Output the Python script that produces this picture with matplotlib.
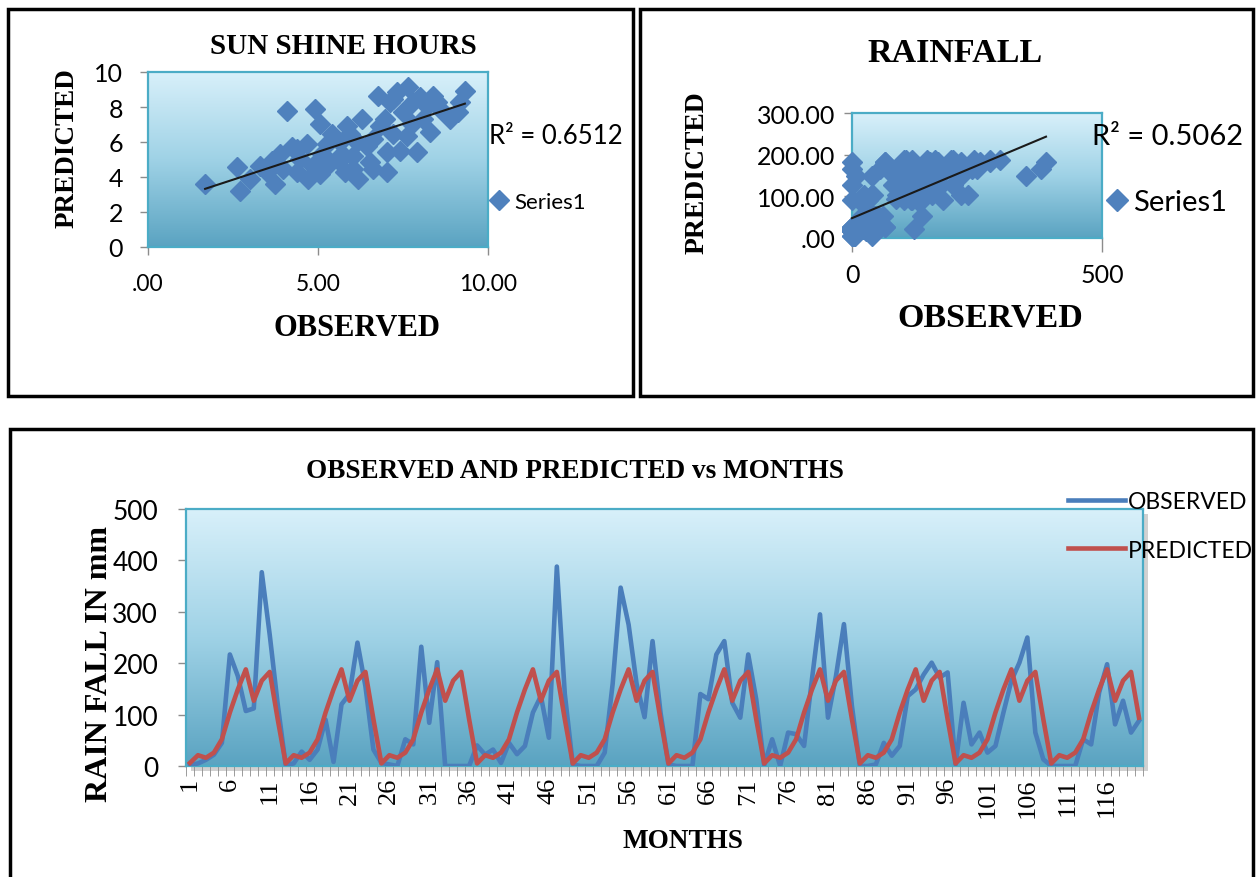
import numpy as np
import matplotlib
matplotlib.use('Agg')
import matplotlib.pyplot as plt
from matplotlib.patches import Rectangle
from matplotlib.lines import Line2D
from matplotlib.colors import LinearSegmentedColormap
from matplotlib.ticker import FuncFormatter, MultipleLocator

W, H = 1257, 878

# Sun shine hours: observed vs predicted
sun_obs = [1.68, 2.61, 2.71, 3.00, 3.29, 3.74, 3.64, 3.88, 4.08, 4.23, 4.37, 4.47,
           4.67, 4.72, 4.91, 5.06, 5.11, 5.25, 5.40, 5.55, 5.65, 5.79, 5.94, 6.04,
           6.19, 6.28, 6.43, 6.53, 6.63, 6.77, 6.82, 7.02, 7.12, 7.22, 7.31, 7.41,
           7.51, 7.66, 7.75, 7.90, 8.00, 8.10, 8.20, 8.39, 8.59, 8.88, 9.13, 9.32,
           9.18, 3.98, 4.86, 5.25, 5.75, 6.14, 5.84, 6.63, 7.02, 6.97, 7.61, 8.29,
           4.37, 3.49, 5.06, 6.04, 8.49, 7.80, 7.22]
sun_pred = [3.60, 4.55, 3.22, 3.89, 4.65, 3.60, 4.93, 5.31, 7.79, 5.70, 4.27, 5.03,
            5.89, 3.89, 7.89, 7.03, 5.31, 4.65, 6.46, 5.03, 5.98, 4.27, 6.46, 5.22,
            3.89, 7.31, 5.79, 4.84, 6.17, 8.65, 6.93, 4.27, 8.27, 6.46, 8.84, 5.50,
            7.70, 9.12, 7.03, 5.41, 8.55, 7.31, 8.08, 8.65, 7.89, 7.31, 7.70, 8.93,
            8.27, 4.46, 4.65, 5.89, 5.22, 5.98, 6.93, 4.46, 5.41, 7.31, 6.36, 6.55,
            5.60, 4.27, 4.17, 4.46, 8.27, 8.27, 8.46]
sun_r2 = 'R² = 0.6512'

# Monthly rainfall (mm), 120 months
months = np.arange(1, 121)
rain_obs = [2, 5, 12, 22, 45, 217, 175, 107, 112, 377, 255, 120,
            2, 5, 28, 12, 32, 90, 8, 120, 140, 240, 155, 32,
            6, 3, 0, 52, 42, 232, 84, 202, 0, 0, 0, 0,
            40, 22, 32, 6, 45, 23, 39, 104, 136, 55, 388, 140,
            3, 0, 0, 0, 26, 160, 347, 275, 160, 95, 243, 104,
            3, 0, 0, 0, 140, 130, 217, 243, 123, 94, 217, 130,
            2, 52, 0, 65, 62, 39, 170, 295, 94, 175, 276, 117,
            0, 0, 3, 45, 20, 39, 136, 149, 178, 201, 172, 182,
            3, 123, 42, 65, 26, 39, 104, 166, 201, 250, 65, 13,
            0, 0, 0, 0, 52, 42, 143, 198, 81, 127, 65, 88]
rain_pred = [6, 21, 16, 26, 52, 104, 149, 188, 127, 166, 183, 91,
             5, 21, 16, 26, 52, 104, 149, 188, 127, 166, 183, 91,
             5, 21, 16, 26, 52, 104, 149, 188, 127, 166, 183, 91,
             5, 21, 16, 26, 52, 104, 149, 188, 127, 166, 183, 91,
             5, 21, 16, 26, 52, 104, 149, 188, 127, 166, 183, 91,
             5, 21, 16, 26, 52, 104, 149, 188, 127, 166, 183, 91,
             5, 21, 16, 26, 52, 104, 149, 188, 127, 166, 183, 91,
             5, 21, 16, 26, 52, 104, 149, 188, 127, 166, 183, 91,
             5, 21, 16, 26, 52, 104, 149, 188, 127, 166, 183, 91,
             5, 21, 16, 26, 52, 104, 149, 188, 127, 166, 183, 94]
rain_r2 = 'R² = 0.5062'
month_labels = list(range(1, 121, 5))

BLUE = '#4f81bd'
LINE_BLUE = '#4a7ebb'
LINE_RED = '#c0504d'
FRAME = '#4bacc6'
TICK = '#8c8c8c'
SANS = ['Lato', 'DejaVu Sans']
SERIF = ['Liberation Serif', 'DejaVu Serif']

plt.rcParams['font.family'] = SANS


def fx(px):
    return px / W


def fy(py):
    return 1 - py / H


def axes_px(left, top, right, bottom):
    return fig.add_axes([fx(left), fy(bottom), (right - left) / W, (bottom - top) / H])


grad = np.linspace(0, 1, 256).reshape(-1, 1)
bg_cmap = LinearSegmentedColormap.from_list('bg', ['#d8f0fa', '#9fd2e6', '#5aa3c1'])


def style_axes(ax):
    ax.imshow(grad, cmap=bg_cmap, extent=[0, 1, 0, 1], transform=ax.transAxes,
              aspect='auto', zorder=0)
    for s in ax.spines.values():
        s.set_color(FRAME)
        s.set_linewidth(1.6)
    ax.tick_params(colors='black', length=6, width=1)
    ax.tick_params(axis='both', which='both', color=TICK)


def no_lead_zero(v, pos):
    return f'{v:.2f}'.lstrip('0')


fig = plt.figure(figsize=(W / 100, H / 100), dpi=100)

# panel borders
fig.add_artist(Rectangle((fx(8), fy(397)), (633 - 8) / W, (397 - 10) / H,
                         transform=fig.transFigure, fill=False, ec='black', lw=2.5))
fig.add_artist(Rectangle((fx(640), fy(397)), (1253 - 640) / W, (397 - 10) / H,
                         transform=fig.transFigure, fill=False, ec='black', lw=2.5))
fig.add_artist(Rectangle((fx(10), fy(900)), (1253 - 10) / W, (900 - 430) / H,
                         transform=fig.transFigure, fill=False, ec='black', lw=2.5))

# ---- sun shine hours scatter
ax1 = axes_px(148, 73, 488, 248)
style_axes(ax1)
ax1.plot(sun_obs, sun_pred, ls='none', marker='D', ms=10.5, color=BLUE, clip_on=False, zorder=3)
c = np.polyfit(sun_obs, sun_pred, 1)
xs = np.array([min(sun_obs), max(sun_obs)])
ax1.plot(xs, np.polyval(c, xs), color='#1a1a1a', lw=1.5, zorder=4)
ax1.set_xlim(0, 10)
ax1.set_ylim(0, 10)
ax1.set_xticks([0, 5, 10])
ax1.xaxis.set_major_formatter(FuncFormatter(no_lead_zero))
ax1.yaxis.set_major_locator(MultipleLocator(2))
ax1.tick_params(axis='x', labelsize=16.5, pad=13)
ax1.tick_params(axis='y', labelsize=18, pad=12)
fig.text(fx(343), fy(47), 'SUN SHINE HOURS', family=SERIF, weight='bold', fontsize=21,
         ha='center', va='center')
fig.text(fx(357), fy(328), 'OBSERVED', family=SERIF, weight='bold', fontsize=22,
         ha='center', va='center')
fig.text(fx(67), fy(148), 'PREDICTED', family=SERIF, weight='bold', fontsize=19.5,
         ha='center', va='center', rotation=90)
fig.text(fx(489), fy(137), sun_r2, fontsize=18.5, ha='left', va='center')
ax1.legend([Line2D([], [], ls='none', marker='D', ms=10, color=BLUE)], ['Series1'],
           loc='center left', bbox_to_anchor=(fx(490), fy(203)), bbox_transform=fig.transFigure,
           frameon=False, handlelength=0.8, handletextpad=0.3, borderpad=0, borderaxespad=0,
           fontsize=16)

# ---- rainfall scatter
ax2 = axes_px(852, 114, 1102, 239)
style_axes(ax2)
ax2.plot(rain_obs, rain_pred, ls='none', marker='D', ms=10.5, color=BLUE, clip_on=False, zorder=3)
c2 = np.polyfit(rain_obs, rain_pred, 1)
xs2 = np.array([min(rain_obs), max(rain_obs)])
ax2.plot(xs2, np.polyval(c2, xs2), color='#1a1a1a', lw=1.5, zorder=4, clip_on=False)
ax2.set_xlim(0, 500)
ax2.set_ylim(0, 300)
ax2.set_xticks([0, 500])
ax2.yaxis.set_major_locator(MultipleLocator(100))
ax2.yaxis.set_major_formatter(FuncFormatter(no_lead_zero))
ax2.tick_params(axis='x', labelsize=18, pad=8, length=10)
ax2.tick_params(axis='y', labelsize=18, pad=6)
fig.text(fx(955), fy(53), 'RAINFALL', family=SERIF, weight='bold', fontsize=24.5,
         ha='center', va='center')
fig.text(fx(990), fy(318), 'OBSERVED', family=SERIF, weight='bold', fontsize=24.5,
         ha='center', va='center')
fig.text(fx(697), fy(173), 'PREDICTED', family=SERIF, weight='bold', fontsize=20,
         ha='center', va='center', rotation=90)
fig.text(fx(1092), fy(137), rain_r2, fontsize=21, ha='left', va='center')
ax2.legend([Line2D([], [], ls='none', marker='D', ms=11, color=BLUE)], ['Series1'],
           loc='center left', bbox_to_anchor=(fx(1107), fy(203)), bbox_transform=fig.transFigure,
           frameon=False, handlelength=0.7, handletextpad=0.2, borderpad=0, borderaxespad=0,
           fontsize=21)

# ---- observed and predicted vs months
fig.add_artist(Rectangle((fx(191), fy(772)), 957 / W, 257 / H, transform=fig.transFigure,
                         color='#9a9a9a', alpha=0.45, lw=0, zorder=-1))
ax3 = axes_px(186, 510, 1143, 767)
style_axes(ax3)
ax3.plot(months, rain_obs, color=LINE_BLUE, lw=3.3, label='OBSERVED', zorder=3)
ax3.plot(months, rain_pred, color=LINE_RED, lw=3.3, label='PREDICTED', zorder=4)
ax3.set_xlim(0.5, 120.5)
ax3.set_ylim(0, 500)
ax3.yaxis.set_major_locator(MultipleLocator(100))
ax3.set_xticks(month_labels)
ax3.set_xticklabels([str(m) for m in month_labels], rotation=90, family=SERIF)
ax3.set_xticks(np.arange(0.5, 121, 1), minor=True)
ax3.tick_params(axis='x', which='major', length=0, labelsize=19, pad=8)
ax3.tick_params(axis='x', which='minor', length=7)
ax3.tick_params(axis='y', labelsize=19, pad=14)
fig.text(fx(575), fy(472), 'OBSERVED AND PREDICTED vs MONTHS', family=SERIF, weight='bold',
         fontsize=19.5, ha='center', va='center')
fig.text(fx(683), fy(842), 'MONTHS', family=SERIF, weight='bold', fontsize=19.5,
         ha='center', va='center')
fig.text(fx(100), fy(664), 'RAIN FALL IN mm', family=SERIF, weight='bold', fontsize=23,
         ha='center', va='center', rotation=90)
fig.legend(*ax3.get_legend_handles_labels(), loc='upper left',
           bbox_to_anchor=(fx(1068), fy(492)), frameon=False, fontsize=16.5,
           handlelength=2.5, handletextpad=0.1, labelspacing=1.2, borderpad=0, borderaxespad=0)

fig.savefig('out.png', dpi=100)
